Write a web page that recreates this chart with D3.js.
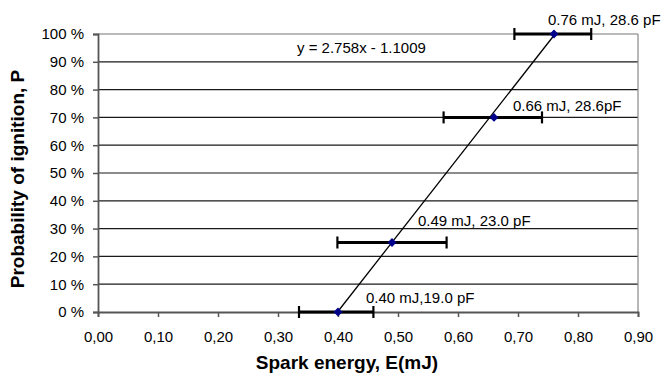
<!DOCTYPE html>
<html><head><meta charset="utf-8">
<script src="https://cdn.jsdelivr.net/npm/d3@7"></script>
<style>body{margin:0;background:#fff;} svg{display:block;font-family:"Liberation Sans",Arial,sans-serif;}</style>
</head><body>
<svg id="c" width="671" height="375"></svg>
<script>
const energy = [0.40, 0.49, 0.66, 0.76];
const probability = [0, 0.25, 0.70, 1.00];
const errLow = [0.335, 0.399, 0.576, 0.694];
const errHigh = [0.459, 0.581, 0.740, 0.822];
const pointLabels = ["0.40 mJ,19.0 pF", "0.49 mJ, 23.0 pF", "0.66 mJ, 28.6pF", "0.76 mJ, 28.6 pF"];
const xTicks = [0, 0.1, 0.2, 0.3, 0.4, 0.5, 0.6, 0.7, 0.8, 0.9];
const yTicks = [0, 0.1, 0.2, 0.3, 0.4, 0.5, 0.6, 0.7, 0.8, 0.9, 1.0];
const slope = 2.758, intercept = -1.1009;
const eqLabel = "y = 2.758x - 1.1009";

const svg = d3.select("#c");
const x = d3.scaleLinear().domain([0, 0.9]).range([98, 638]);
const y = d3.scaleLinear().domain([0, 1]).range([312, 34]);
const FONT = "Liberation Sans, Arial, sans-serif";

// gridlines
svg.append("g").selectAll("line").data(yTicks.filter(d => d > 0 && d < 1)).join("line")
  .attr("x1", x(0)).attr("x2", x(0.9)).attr("y1", d => y(d)).attr("y2", d => y(d))
  .attr("stroke", "#1a1a1a").attr("stroke-width", 1.2);
// border top/right
svg.append("line").attr("x1", x(0)).attr("x2", x(0.9)).attr("y1", y(1)).attr("y2", y(1)).attr("stroke", "#777").attr("stroke-width", 1.2);
svg.append("line").attr("x1", x(0.9)).attr("x2", x(0.9)).attr("y1", y(1)).attr("y2", y(0)).attr("stroke", "#888").attr("stroke-width", 1.2);

// axes
const yAxis = d3.axisLeft(y).tickValues(yTicks).tickSize(5).tickPadding(9)
  .tickFormat(d => Math.round(d * 100) + " %");
const gy = svg.append("g").attr("transform", `translate(${x(0)},0)`).call(yAxis);
gy.select(".domain").attr("stroke", "#555").attr("stroke-width", 1.8);
gy.selectAll(".tick line").attr("stroke", "#555").attr("stroke-width", 1.5);
gy.selectAll("text").attr("font-size", 15).attr("fill", "#000").attr("font-family", FONT);

const xAxis = d3.axisBottom(x).tickValues(xTicks).tickSize(5).tickPadding(14)
  .tickFormat(d => d3.format(".2f")(d).replace(".", ","));
const gx = svg.append("g").attr("transform", `translate(0,${y(0)})`).call(xAxis);
gx.select(".domain").attr("stroke", "#555").attr("stroke-width", 1.8);
gx.selectAll(".tick line").attr("stroke", "#555").attr("stroke-width", 1.5);
gx.selectAll("text").attr("font-size", 15).attr("fill", "#000").attr("font-family", FONT);

// trend line
const x0 = -intercept / slope, x1 = (1 - intercept) / slope;
svg.append("line").attr("x1", x(x0)).attr("y1", y(slope * x0 + intercept))
  .attr("x2", x(x1)).attr("y2", y(slope * x1 + intercept))
  .attr("stroke", "#000").attr("stroke-width", 1.3);

// error bars
const data = energy.map((e, i) => ({e, p: probability[i], lo: errLow[i], hi: errHigh[i], label: pointLabels[i]}));
const eb = svg.append("g");
eb.selectAll(".h").data(data).join("line")
  .attr("x1", d => x(d.lo)).attr("x2", d => x(d.hi)).attr("y1", d => y(d.p)).attr("y2", d => y(d.p))
  .attr("stroke", "#000").attr("stroke-width", 3);
eb.selectAll(".l").data(data).join("line")
  .attr("x1", d => x(d.lo)).attr("x2", d => x(d.lo)).attr("y1", d => y(d.p) - 6).attr("y2", d => y(d.p) + 6)
  .attr("stroke", "#000").attr("stroke-width", 2.2);
eb.selectAll(".r").data(data).join("line")
  .attr("x1", d => x(d.hi)).attr("x2", d => x(d.hi)).attr("y1", d => y(d.p) - 6).attr("y2", d => y(d.p) + 6)
  .attr("stroke", "#000").attr("stroke-width", 2.2);

// markers
svg.append("g").selectAll("path").data(data).join("path")
  .attr("d", d3.symbol(d3.symbolDiamond2, 50))
  .attr("transform", d => `translate(${x(d.e)},${y(d.p)})`)
  .attr("fill", "#00008b");

// point labels
const labelOffsets = [[28, -9], [26, -17], [19, -6.5], [-6, -9]];
svg.append("g").selectAll("text").data(data).join("text")
  .attr("x", (d, i) => x(d.e) + labelOffsets[i][0])
  .attr("y", (d, i) => y(d.p) + labelOffsets[i][1])
  .attr("font-size", 15).text(d => d.label);

svg.append("text").attr("x", 297).attr("y", 53).attr("font-size", 15).text(eqLabel);

// axis titles
svg.append("text").attr("x", 347).attr("y", 369).attr("text-anchor", "middle")
  .attr("font-size", 19).attr("font-weight", "bold").text("Spark energy, E(mJ)");
svg.append("text").attr("transform", "translate(24,179) rotate(-90)").attr("text-anchor", "middle")
  .attr("font-size", 19).attr("font-weight", "bold").text("Probability of ignition, P");
</script>
</body></html>
